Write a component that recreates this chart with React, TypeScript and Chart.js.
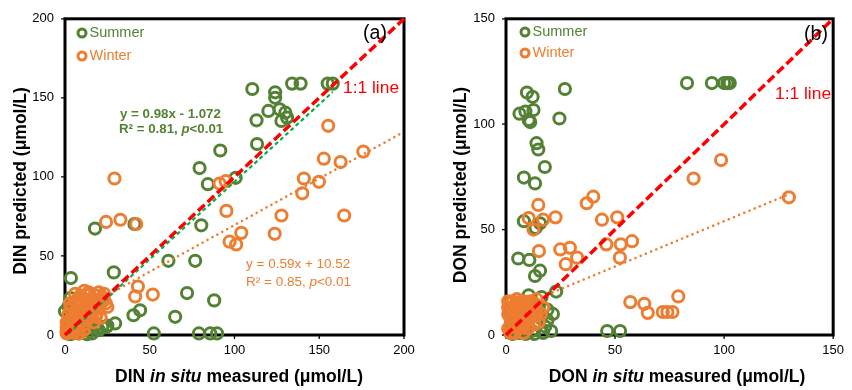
import React, { useEffect, useRef } from "react";
import { Chart, registerables } from "chart.js";

Chart.register(...registerables);

const GREEN = "#548235";
const ORANGE = "#ED7D31";
const RED = "#FF0000";
const TREND_GREEN = "#00B050";
const FONT = "'Liberation Sans', Arial, sans-serif";

// ---------- Panel (a) DIN ----------
const dinSummerX = [110.5, 124, 124, 134, 139, 155, 158, 120, 126.7, 130, 127.7, 131, 113, 113.3, 91.6, 79.4, 84.3, 100.7, 80.4, 41, 17.7, 61, 76.8, 28.8, 3.5, 3.2, 72, 88, 44.3, 40.4, 65, 29.6, 24.6, 52.4, 79, 85.7, 89.7, 0, 1, 2, 3, 4, 5, 6, 8, 10, 12, 14, 16, 18, 20, 22, 2, 6, 8, 11, 15, 4, 13, 25, 19];
const dinSummerY = [155.6, 153.5, 150, 159, 159, 159, 159, 141.7, 142.7, 140.6, 135.4, 137.5, 135.8, 120.8, 116.7, 105.6, 95.4, 99.4, 69.4, 70.2, 67.3, 46.9, 46.9, 39.6, 36, 23.3, 26.5, 21.9, 15.6, 12.5, 11.5, 7.3, 5.2, 1, 1, 1, 1, 15, 2, 5, 0.5, 8, 3, 11, 6, 2, 8, 4, 1, 6, 3, 5, 18, 20, 1, 14, 10, 1, 0.5, 6, 4];
const dinWinterX = [29.2, 24.2, 32.7, 42, 91.2, 94.8, 95.2, 155.3, 176, 152.7, 162.6, 140.9, 149.8, 140, 127.7, 164.7, 123.7, 97.1, 101, 104, 43, 41.4, 51.8, 11.4, 14.4, 20, 23, 25, 18.3, 8.5, 1, 2, 3, 4, 5, 6, 7, 8, 9, 10, 11, 12, 13, 14, 15, 16, 18, 20, 22, 3, 5, 8, 2, 4, 6, 10, 12, 17, 21, 1, 3, 7, 2, 4, 6, 9, 11, 13, 15, 17, 19, 21, 23, 7, 9, 14, 18, 5, 3, 1, 6, 12, 16, 19, 24, 10, 8];
const dinWinterY = [99, 71.5, 72.9, 70.2, 95.8, 97.3, 78.5, 132.3, 116, 111.5, 109.4, 99, 96.9, 89.6, 75.6, 75.6, 64, 59, 57.3, 64.6, 30.6, 24.4, 25.6, 28, 25.4, 27, 26, 17.7, 11.5, 1, 5, 8, 10, 6, 12, 15, 9, 18, 14, 20, 11, 16, 22, 13, 19, 23, 21, 17, 24, 3, 1.5, 4, 13, 18, 21, 24, 7, 15, 11, 1, 16, 3, 2, 3, 5, 8, 3, 10, 12, 8, 14, 20, 22, 22, 25, 27, 25, 8, 20, 8, 26, 19, 17, 19, 20, 16, 12];

// ---------- Panel (b) DON ----------
const donSummerX = [83, 94.4, 100, 101.5, 102.6, 27, 9.6, 12.2, 6.2, 8.9, 12.6, 10.4, 11.1, 24.5, 14, 14.8, 17.8, 8.2, 13.3, 8.2, 13.6, 15.6, 5.6, 10.7, 15.6, 13.3, 23, 10.4, 16.3, 46.4, 52.3, 20.7, 21.5, 2, 4, 6, 8, 10, 12, 14, 16, 18, 3, 7, 11, 15, 19, 9, 13, 5, 17, 3, 19];
const donSummerY = [119.5, 119.5, 119.5, 119.5, 119.5, 116.7, 115, 113, 105, 106, 106.7, 102, 101, 102.7, 91, 88, 79.7, 74.7, 71.9, 54, 50.8, 53, 36.3, 35.6, 30.5, 28, 20.6, 18.8, 18, 1.9, 1.9, 1.9, 10, 2, 5, 1, 3, 6, 2, 5, 8, 4, 8, 12, 10, 13, 7, 0.5, 0.5, 14, 1, 0.5, 12];
const donWinterX = [129.7, 98.6, 86, 37, 40, 14.8, 10.4, 12.6, 17, 22.7, 44, 51, 46, 52.6, 57.8, 52.2, 15.1, 24.9, 29.3, 32.6, 27.4, 57, 63.4, 65, 71.9, 74, 76.3, 79, 14, 1, 2, 3, 4, 5, 6, 7, 8, 9, 10, 11, 12, 13, 2, 3, 6, 8, 1, 4, 10, 14, 7, 5, 12, 15, 1, 2, 3, 4, 5, 6, 7, 8, 9, 10, 11, 12, 13, 14, 16, 17, 3, 5, 9, 11, 1, 2, 6, 8];
const donWinterY = [65.3, 83, 74.2, 62.5, 65.6, 61.7, 55.5, 50, 54.7, 55.8, 54.7, 55.8, 43, 43, 44.5, 36.7, 39.8, 40.6, 41.4, 36.7, 33.6, 15.6, 14.8, 10.5, 10.9, 10.9, 10.9, 18.3, 17, 10, 8, 12, 6, 15, 9, 13, 4, 11, 7, 14, 9, 5, 4, 16, 3, 16, 13, 1, 12, 9, 7, 11, 15, 6, 3, 15, 6, 10, 4, 13, 16, 9, 14, 3, 8, 12, 15, 12, 10, 13, 9, 17, 6, 16, 16, 1, 7, 1];

// trendlines (slope, intercept, x range)
const dinSummerTrend = [0.98, -1.072, 2, 158];
const dinWinterTrend = [0.59, 10.52, 0, 200];
const donWinterTrend = [0.43, 11, 0, 130];

const dinTicks = [0, 50, 100, 150, 200];
const donTicks = [0, 50, 100, 150];

type Seg = { t: string; f: string };
type TextItem = { segs: Seg[]; x: number; y: number; color: string; align?: "left" | "center"; rotate?: boolean };

function zip(xs: number[], ys: number[]) {
  return xs.map((x, i) => ({ x, y: ys[i] }));
}
function trendPts(t: number[]) {
  const [m, b, x0, x1] = t;
  return [{ x: x0, y: m * x0 + b }, { x: x1, y: m * x1 + b }];
}

function drawRich(ctx: CanvasRenderingContext2D, it: TextItem) {
  ctx.save();
  let total = 0;
  it.segs.forEach((s) => {
    ctx.font = s.f;
    total += ctx.measureText(s.t).width;
  });
  ctx.translate(it.x, it.y);
  if (it.rotate) ctx.rotate(-Math.PI / 2);
  let cx = it.align === "center" ? -total / 2 : 0;
  ctx.fillStyle = it.color;
  ctx.textBaseline = "middle";
  ctx.textAlign = "left";
  it.segs.forEach((s) => {
    ctx.font = s.f;
    ctx.fillText(s.t, cx, 0);
    cx += ctx.measureText(s.t).width;
  });
  ctx.restore();
}

interface PanelCfg {
  max: number;
  ticks: number[];
  summer: { x: number; y: number }[];
  winter: { x: number; y: number }[];
  summerTrend?: number[];
  winterTrend: number[];
  yAxisWidth: number;
  padRight: number;
  legendX: number;
  legendY: number[];
  texts: TextItem[];
}

function Panel({ cfg }: { cfg: PanelCfg }) {
  const ref = useRef<HTMLCanvasElement>(null);
  useEffect(() => {
    if (!ref.current) return;
    const decor = {
      id: "decor",
      beforeDatasetsDraw(chart: any) {
        const { ctx, chartArea: a, scales } = chart;
        ctx.save();
        ctx.strokeStyle = "#000";
        ctx.lineWidth = 1.3;
        cfg.ticks.forEach((v) => {
          const px = scales.x.getPixelForValue(v);
          const py = scales.y.getPixelForValue(v);
          ctx.beginPath();
          ctx.moveTo(px, a.bottom);
          ctx.lineTo(px, a.bottom + 4);
          ctx.moveTo(a.left - 4, py);
          ctx.lineTo(a.left, py);
          ctx.stroke();
        });
        ctx.lineWidth = 3;
        ctx.strokeRect(a.left, a.top, a.right - a.left, a.bottom - a.top);
        ctx.restore();
      },
      afterDraw(chart: any) {
        const ctx = chart.ctx as CanvasRenderingContext2D;
        const items = [
          { label: "Summer", color: GREEN },
          { label: "Winter", color: ORANGE },
        ];
        items.forEach((it, i) => {
          const y = cfg.legendY[i];
          ctx.save();
          ctx.beginPath();
          ctx.strokeStyle = it.color;
          ctx.lineWidth = 3;
          ctx.arc(cfg.legendX, y, 4, 0, Math.PI * 2);
          ctx.stroke();
          ctx.restore();
          drawRich(ctx, { segs: [{ t: it.label, f: `14.5px ${FONT}` }], x: cfg.legendX + 7.5, y, color: it.color });
        });
        cfg.texts.forEach((t) => drawRich(ctx, t));
      },
    };

    const datasets: any[] = [
      {
        type: "line",
        data: [{ x: 0, y: 0 }, { x: cfg.max, y: cfg.max }],
        borderColor: RED,
        borderWidth: 3.5,
        borderDash: [9, 4],
        pointRadius: 0,
        order: 0,
        clip: false,
      },
    ];
    if (cfg.summerTrend) {
      datasets.push({
        type: "line",
        data: trendPts(cfg.summerTrend),
        borderColor: TREND_GREEN,
        borderWidth: 2.2,
        borderDash: [4, 3],
        pointRadius: 0,
        order: 0.5,
        clip: false,
      });
    }
    datasets.push(
      {
        type: "line",
        data: trendPts(cfg.winterTrend),
        borderColor: ORANGE,
        borderWidth: 2.6,
        borderDash: [0.01, 5.6],
        borderCapStyle: "round",
        pointRadius: 0,
        order: 0.5,
        clip: false,
      },
      {
        type: "scatter",
        label: "Winter",
        data: cfg.winter,
        pointStyle: "circle",
        pointRadius: 5.6,
        pointBorderWidth: 3,
        borderColor: ORANGE,
        backgroundColor: "rgba(0,0,0,0)",
        order: 1,
        clip: false,
      },
      {
        type: "scatter",
        label: "Summer",
        data: cfg.summer,
        pointStyle: "circle",
        pointRadius: 5.6,
        pointBorderWidth: 3,
        borderColor: GREEN,
        backgroundColor: "rgba(0,0,0,0)",
        order: 2,
        clip: false,
      }
    );

    const tickFont = { family: FONT, size: 13 };
    const chart = new Chart(ref.current, {
      type: "scatter",
      data: { datasets },
      plugins: [decor],
      options: {
        animation: false,
        responsive: false,
        events: [],
        layout: { padding: { left: 0, right: cfg.padRight, top: 15, bottom: 0 }, autoPadding: false } as any,
        plugins: { legend: { display: false }, tooltip: { enabled: false } },
        scales: {
          x: {
            type: "linear",
            min: 0,
            max: cfg.max,
            afterFit: (s: any) => {
              s.height = 55;
            },
            afterBuildTicks: (s: any) => {
              s.ticks = cfg.ticks.map((v) => ({ value: v }));
            },
            grid: { display: false, drawTicks: false },
            border: { display: false },
            ticks: { font: tickFont, color: "#000", padding: 8, maxRotation: 0 },
          },
          y: {
            type: "linear",
            min: 0,
            max: cfg.max,
            afterFit: (s: any) => {
              s.width = cfg.yAxisWidth;
            },
            afterBuildTicks: (s: any) => {
              s.ticks = cfg.ticks.map((v) => ({ value: v }));
            },
            grid: { display: false, drawTicks: false },
            border: { display: false },
            ticks: { font: tickFont, color: "#000", padding: 11 },
          },
        },
      } as any,
    });
    return () => chart.destroy();
  }, [cfg]);
  return <canvas ref={ref} width={426} height={390} style={{ display: "block" }} />;
}

const B = (s: number) => `bold ${s}px ${FONT}`;
const BI = (s: number) => `italic bold ${s}px ${FONT}`;
const N = (s: number) => `${s}px ${FONT}`;
const I = (s: number) => `italic ${s}px ${FONT}`;

const cfgA: PanelCfg = {
  max: 200,
  ticks: dinTicks,
  summer: zip(dinSummerX, dinSummerY),
  winter: zip(dinWinterX, dinWinterY),
  summerTrend: dinSummerTrend,
  winterTrend: dinWinterTrend,
  yAxisWidth: 65,
  padRight: 22,
  legendX: 82,
  legendY: [33, 56],
  texts: [
    { segs: [{ t: "(a)", f: N(19.5) }], x: 375, y: 34, color: "#000", align: "center" },
    { segs: [{ t: "1:1 line", f: N(17.4) }], x: 343, y: 88, color: RED },
    { segs: [{ t: "y = 0.98x - 1.072", f: B(13.3) }], x: 120, y: 114, color: GREEN },
    { segs: [{ t: "R² = 0.81, ", f: B(13.3) }, { t: "p", f: BI(13.3) }, { t: "<0.01", f: B(13.3) }], x: 119, y: 129, color: GREEN },
    { segs: [{ t: "y = 0.59x + 10.52", f: N(13.5) }], x: 246, y: 264, color: ORANGE },
    { segs: [{ t: "R² = 0.85, ", f: N(13.5) }, { t: "p", f: I(13.5) }, { t: "<0.01", f: N(13.5) }], x: 246, y: 282, color: ORANGE },
    { segs: [{ t: "DIN predicted (μmol/L)", f: B(17.5) }], x: 21, y: 181, color: "#000", align: "center", rotate: true },
    { segs: [{ t: "DIN ", f: B(17.5) }, { t: "in situ", f: BI(17.5) }, { t: " measured (μmol/L)", f: B(17.5) }], x: 239, y: 377, color: "#000", align: "center" },
  ],
};

const cfgB: PanelCfg = {
  max: 150,
  ticks: donTicks,
  summer: zip(donSummerX, donSummerY),
  winter: zip(donWinterX, donWinterY),
  winterTrend: donWinterTrend,
  yAxisWidth: 80,
  padRight: 9,
  legendX: 99,
  legendY: [32, 53],
  texts: [
    { segs: [{ t: "(b)", f: N(19.5) }], x: 390, y: 35, color: "#000", align: "center" },
    { segs: [{ t: "1:1 line", f: N(17.4) }], x: 349, y: 94, color: RED },
    { segs: [{ t: "DON predicted (μmol/L)", f: B(17.5) }], x: 35, y: 185, color: "#000", align: "center", rotate: true },
    { segs: [{ t: "DON ", f: B(17.5) }, { t: "in situ", f: BI(17.5) }, { t: " measured (μmol/L)", f: B(17.5) }], x: 251, y: 377, color: "#000", align: "center" },
  ],
};

export default function App() {
  return (
    <div style={{ position: "absolute", left: 0, top: 0, width: 852, height: 390, display: "flex", background: "#fff" }}>
      <Panel cfg={cfgA} />
      <Panel cfg={cfgB} />
    </div>
  );
}
